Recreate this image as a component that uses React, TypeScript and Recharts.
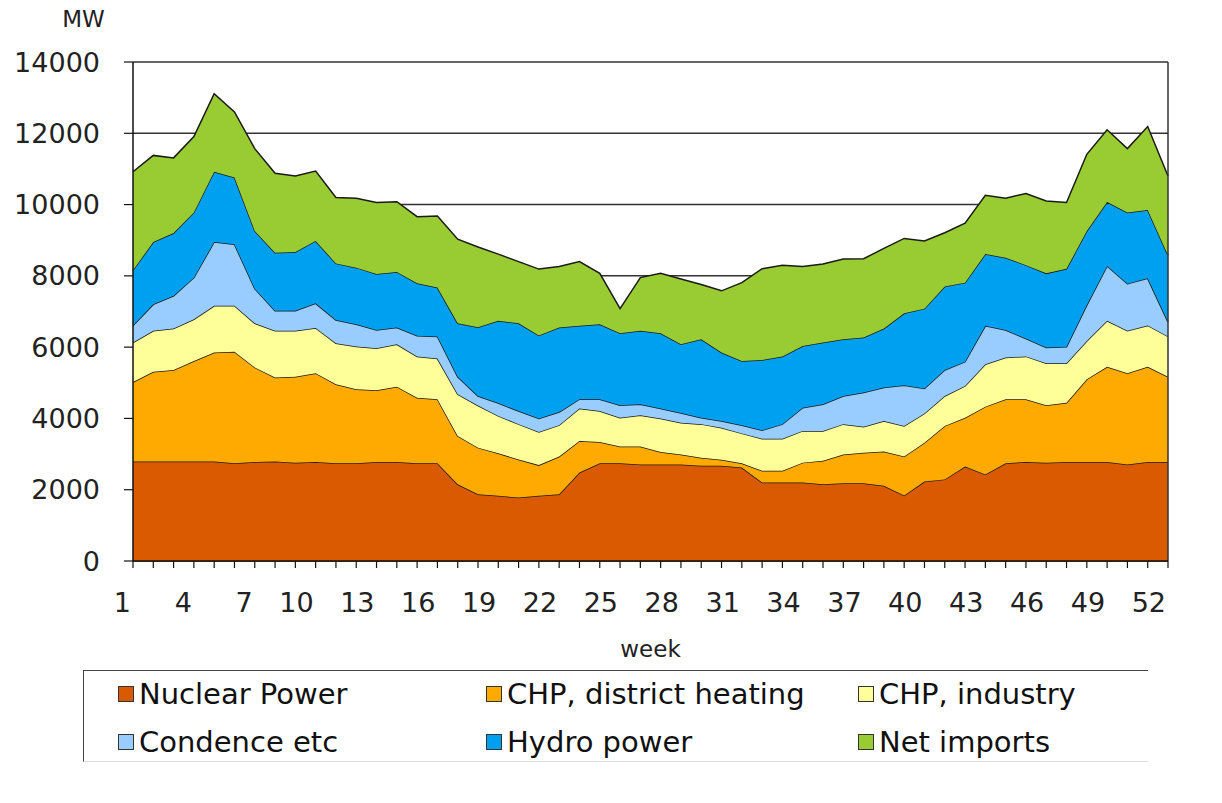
import React from 'react';
import { AreaChart, Area, XAxis, YAxis, CartesianGrid, Legend, ReferenceLine } from 'recharts';

const weeks = [
  1, 2, 3, 4, 5, 6, 7, 8, 9, 10, 11, 12, 13, 14, 15, 16, 17, 18, 19, 20, 21, 22, 23, 24, 25, 26,
  27, 28, 29, 30, 31, 32, 33, 34, 35, 36, 37, 38, 39, 40, 41, 42, 43, 44, 45, 46, 47, 48, 49, 50, 51, 52,
];

const nuclear = [
  2790, 2790, 2790, 2790, 2790, 2740, 2780, 2790, 2760, 2780,
  2740, 2740, 2780, 2780, 2740, 2740, 2150, 1870, 1830, 1780,
  1830, 1870, 2480, 2740, 2740, 2710, 2710, 2710, 2670, 2670,
  2620, 2200, 2200, 2200, 2150, 2180, 2180, 2110, 1840, 2230,
  2290, 2650, 2430, 2740, 2780, 2760, 2780, 2780, 2780, 2710, 2780, 2780,
];

const chpDistrict = [
  2230, 2520, 2570, 2820, 3060, 3130, 2650, 2360, 2410, 2490,
  2220, 2080, 2010, 2110, 1840, 1800, 1360, 1310, 1190, 1070,
  860, 1060, 890, 600, 470, 500, 350, 280, 230, 170,
  120, 330, 330, 560, 660, 810, 860, 960, 1090, 1090,
  1500, 1370, 1900, 1800, 1760, 1610, 1660, 2320, 2670, 2560, 2670, 2390,
];

const chpIndustry = [
  1110, 1150, 1160, 1170, 1310, 1290, 1240, 1310, 1290, 1270,
  1150, 1200, 1180, 1190, 1160, 1140, 1170, 1180, 1050, 990,
  930, 880, 910, 870, 810, 880, 940, 890, 940, 900,
  840, 900, 900, 890, 840, 850, 730, 860, 860, 820,
  840, 890, 1190, 1170, 1200, 1180, 1110, 1070, 1290, 1190, 1160, 1130,
];

const condence = [
  480, 740, 920, 1170, 1790, 1730, 970, 560, 560, 690,
  650, 620, 510, 470, 580, 620, 490, 270, 360, 370,
  380, 370, 260, 330, 350, 310, 280, 270, 180, 190,
  230, 240, 410, 650, 750, 790, 960, 940, 1140, 700,
  730, 680, 1080, 770, 500, 440, 460, 1010, 1540, 1320, 1320, 410,
];

const hydro = [
  1550, 1750, 1760, 1830, 1970, 1870, 1620, 1630, 1650, 1750,
  1590, 1590, 1570, 1560, 1470, 1370, 1500, 1930, 2310, 2460,
  2330, 2370, 2060, 2100, 2020, 2060, 2110, 1930, 2200, 1920,
  1800, 1970, 1900, 1730, 1730, 1590, 1540, 1650, 2020, 2240,
  2340, 2220, 2010, 2030, 2060, 2080, 2190, 2080, 1790, 2000, 1920, 1870,
];

const netImports = [
  2760, 2430, 2110, 2130, 2190, 1840, 2310, 2230, 2130, 1960,
  1850, 1950, 2010, 1970, 1870, 2010, 2360, 2250, 1870, 1730,
  1860, 1710, 1800, 1430, 690, 1490, 1680, 1830, 1540, 1730,
  2200, 2560, 2560, 2230, 2200, 2250, 2210, 2250, 2100, 1900,
  1510, 1670, 1650, 1670, 2010, 2030, 1860, 2150, 2030, 1790, 2340, 2220,
];

const yTicks = [0, 2000, 4000, 6000, 8000, 10000, 12000, 14000];
const xTickLabels = [1, 4, 7, 10, 13, 16, 19, 22, 25, 28, 31, 34, 37, 40, 43, 46, 49, 52];

const seriesKeys = ['nuclear', 'chpDistrict', 'chpIndustry', 'condence', 'hydro', 'netImports'];
const seriesNames = [
  'Nuclear Power',
  'CHP, district heating',
  'CHP, industry',
  'Condence etc',
  'Hydro power',
  'Net imports',
];
const seriesColors = ['#D95A00', '#FFAA00', '#FFFF99', '#99CCFF', '#00A0F0', '#99CC33'];
const seriesValues = [nuclear, chpDistrict, chpIndustry, condence, hydro, netImports];

const data = weeks.map((w, i) => {
  const row: Record<string, number> = { week: w };
  seriesKeys.forEach((k, s) => {
    row[k] = seriesValues[s][i];
  });
  return row;
});

const FONT = "'DejaVu Sans', Verdana, sans-serif";

const XTick = (props: any) => {
  const { x, y, payload } = props;
  if (!xTickLabels.includes(Number(payload.value))) return null;
  return (
    <text x={x - 2} y={y + 42} textAnchor="end" fontSize={27} fill="#222" fontFamily={FONT}>
      {payload.value}
    </text>
  );
};

const WeekLabel = (props: any) => {
  const vb = props.viewBox || { x: 125, y: 561, width: 1035 };
  return (
    <text x={vb.x + vb.width / 2} y={vb.y + 96} textAnchor="middle" fontSize={23} fill="#222" fontFamily={FONT}>
      week
    </text>
  );
};

const MWLabel = (props: any) => {
  const vb = props.viewBox || { x: 0, y: 62 };
  return (
    <text x={vb.x + 75.5} y={vb.y - 35} textAnchor="middle" fontSize={23} fill="#222" fontFamily={FONT}>
      MW
    </text>
  );
};

const colX = [34, 402, 774];
const rowTop = [7, 55];

const renderLegend = () => (
  <div
    style={{
      position: 'relative',
      width: 1065,
      height: 92,
      boxSizing: 'border-box',
      borderTop: '1.5px solid #444',
      borderLeft: '1.5px solid #444',
      borderBottom: '1px solid #ddd',
      fontFamily: FONT,
      fontSize: 29,
      color: '#111',
    }}
  >
    {seriesNames.map((name, i) => {
      const col = i % 3;
      const row = Math.floor(i / 3);
      return (
        <div
          key={name}
          style={{
            position: 'absolute',
            left: colX[col],
            top: rowTop[row],
            height: 32,
            lineHeight: '32px',
            display: 'flex',
            alignItems: 'center',
            whiteSpace: 'nowrap',
          }}
        >
          <span
            style={{
              display: 'inline-block',
              width: 14,
              height: 14,
              background: seriesColors[i],
              border: '1px solid #333',
              marginRight: 5,
            }}
          />
          {name}
        </div>
      );
    })}
  </div>
);

export default function App() {
  return (
    <div style={{ fontFamily: FONT, width: 1200, height: 800, marginTop: -8 }}>
      <AreaChart
        width={1200}
        height={800}
        data={data}
        margin={{ top: 62, right: 40, bottom: 12, left: 0 }}
      >
        <CartesianGrid vertical={false} stroke="#333" strokeWidth={1.5} />
        <XAxis
          dataKey="week"
          interval={0}
          tickSize={7}
          tickMargin={2}
          height={135}
          axisLine={{ stroke: '#111', strokeWidth: 1.5 }}
          tickLine={{ stroke: '#111', strokeWidth: 1.2 }}
          tick={<XTick />}
          label={<WeekLabel />}
        />
        <YAxis
          domain={[0, 14000]}
          ticks={yTicks}
          width={125}
          tickSize={9}
          tickMargin={24}
          axisLine={{ stroke: '#111', strokeWidth: 1.5 }}
          tickLine={{ stroke: '#111', strokeWidth: 1.2 }}
          tick={{ fontSize: 27, fill: '#222', fontFamily: FONT }}
          label={<MWLabel />}
        />
        <ReferenceLine x={52} stroke="#333" strokeWidth={1.5} />
        {seriesKeys.map((k, i) => (
          <Area
            key={k}
            type="linear"
            dataKey={k}
            name={seriesNames[i]}
            stackId="1"
            stroke="#1a1a1a"
            strokeWidth={1.5}
            fill={seriesColors[i]}
            fillOpacity={1}
            dot={false}
            activeDot={false}
            isAnimationActive={false}
          />
        ))}
        <Legend
          verticalAlign="bottom"
          content={renderLegend}
          wrapperStyle={{ left: 75, top: 670, bottom: 'auto', width: 1065, height: 92 }}
        />
      </AreaChart>
    </div>
  );
}
